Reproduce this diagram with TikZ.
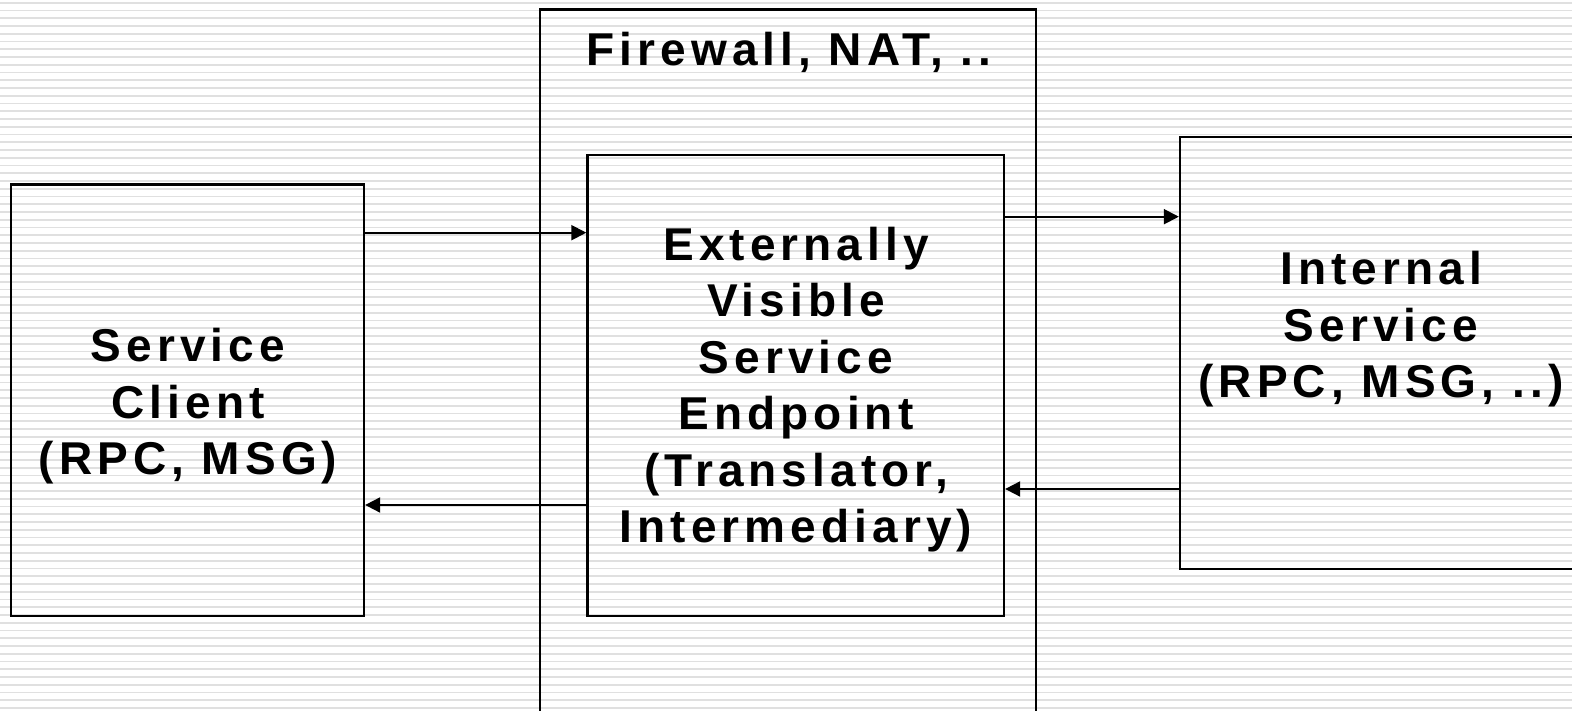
\documentclass[tikz,border=0pt]{standalone}
\usepackage{fontspec}
\setmainfont{Liberation Sans}[LetterSpace=11]
\usetikzlibrary{arrows.meta}
\definecolor{ruleline}{RGB}{224,224,224}
\tikzset{
  box/.style={draw=black, line width=2.3pt, fill=none, inner sep=0pt,
    minimum width=#1},
  flow/.style={line width=2pt, -{Triangle[length=15pt,width=15pt]}},
  txt/.style={font=\bfseries\fontsize{46}{56.5}\selectfont, align=center,
    inner sep=0pt},
  bgline/.style={ruleline, line width=1.7pt},
}
\begin{document}
\begin{tikzpicture}[x=1pt, y=1pt]
  \useasboundingbox (0,0) rectangle (1572,711);
  \clip (0,0) rectangle (1572,711);
  \fill[white] (0,0) rectangle (1572,711);
  % ruled paper background
  \foreach \i in {0,...,92}
    \draw[bgline] (0,{708.3-\i*7.75}) -- (1572,{708.3-\i*7.75});

  % boxes
  \node[box=495.7, minimum height=731.5] (firewall) at (787.85,335.75) {};
  \node[box=353, minimum height=431.5] (client) at (187.5,310.75) {};
  \node[box=416.5, minimum height=461] (endpoint) at (795.75,325.5) {};
  \node[box=402, minimum height=432] (internal) at (1381,358) {};

  % texts (base anchor sits on the last line)
  \node[txt, anchor=base] (fwtitle) at (789,645) {Firewall, NAT, ..};
  \node[txt, anchor=base] (clienttxt) at (188,236) {Service\\Client\\(RPC, MSG)};
  \node[txt, anchor=base] (endpointtxt) at (796,168)
    {Externally\\Visible\\Service\\Endpoint\\(Translator,\\Intermediary)};
  \node[txt, anchor=base] (internaltxt) at (1381,313)
    {Internal\\Service\\(RPC, MSG, ..)};

  % message flows
  \coordinate (lvA) at (0,478.3);
  \coordinate (lvB) at (0,206);
  \coordinate (lvC) at (0,494.3);
  \coordinate (lvD) at (0,222);
  \draw[flow] (client.east |- lvA) -- (endpoint.west |- lvA);
  \draw[flow] (endpoint.west |- lvB) -- (client.east |- lvB);
  \draw[flow] (endpoint.east |- lvC) -- (internal.west |- lvC);
  \draw[flow] (internal.west |- lvD) -- (endpoint.east |- lvD);
\end{tikzpicture}
\end{document}
